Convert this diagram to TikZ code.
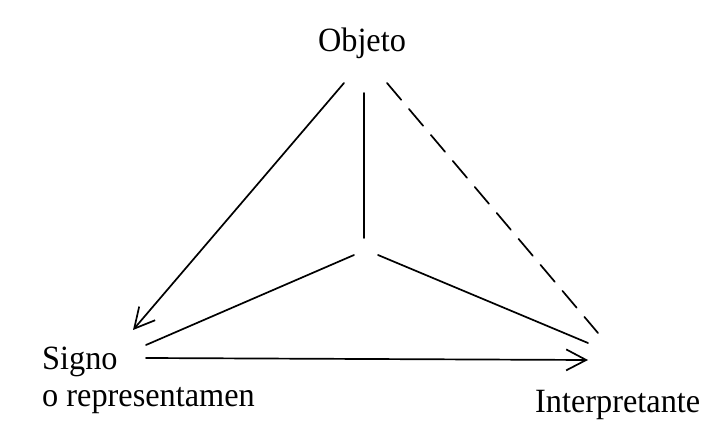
\documentclass[tikz,border=0pt]{standalone}
\usepackage{fontspec}
\setmainfont{Liberation Serif}
\usetikzlibrary{arrows.meta}
\begin{document}
\begin{tikzpicture}[x=1pt,y=-1pt,
  lbl/.style={inner sep=0pt,anchor=base west,font=\fontsize{34}{36}\selectfont},
  ln/.style={line width=1.7pt,line cap=round},
  arr/.style={ln,-{Straight Barb[length=20pt,width=21pt,line width=1.7pt]}}]
\useasboundingbox[fill=white] (0,0) rectangle (715,430);
\node[lbl,anchor=base] (obj) at (362,52) {\scalebox{0.95}[1]{Objeto}};
\node[lbl] (sig) at (42,370) {\scalebox{0.95}[1]{Signo}};
\node[lbl] (rep) at (42,406) {\scalebox{0.95}[1]{o representamen}};
\node[lbl] (int) at (535,412) {\scalebox{0.95}[1]{Interpretante}};
% endpoints
\coordinate (oL) at (344,83);
\coordinate (oM) at (364,93);
\coordinate (oR) at (387,83);
\coordinate (sT) at (133,330);
\coordinate (sL) at (146,345);
\coordinate (sH) at (146,358);
\coordinate (cT) at (364,238);
\coordinate (cL) at (354,255);
\coordinate (cR) at (378,255);
\coordinate (iR) at (588,343);
\coordinate (iD) at (598,333);
\coordinate (iH) at (588,360);
\draw[arr] (oL) -- (sT);
\draw[ln] (oM) -- (cT);
\draw[ln,dash pattern=on 22pt off 12pt] (oR) -- (iD);
\draw[ln] (cL) -- (sL);
\draw[ln] (cR) -- (iR);
\draw[arr] (sH) -- (iH);
\end{tikzpicture}
\end{document}
